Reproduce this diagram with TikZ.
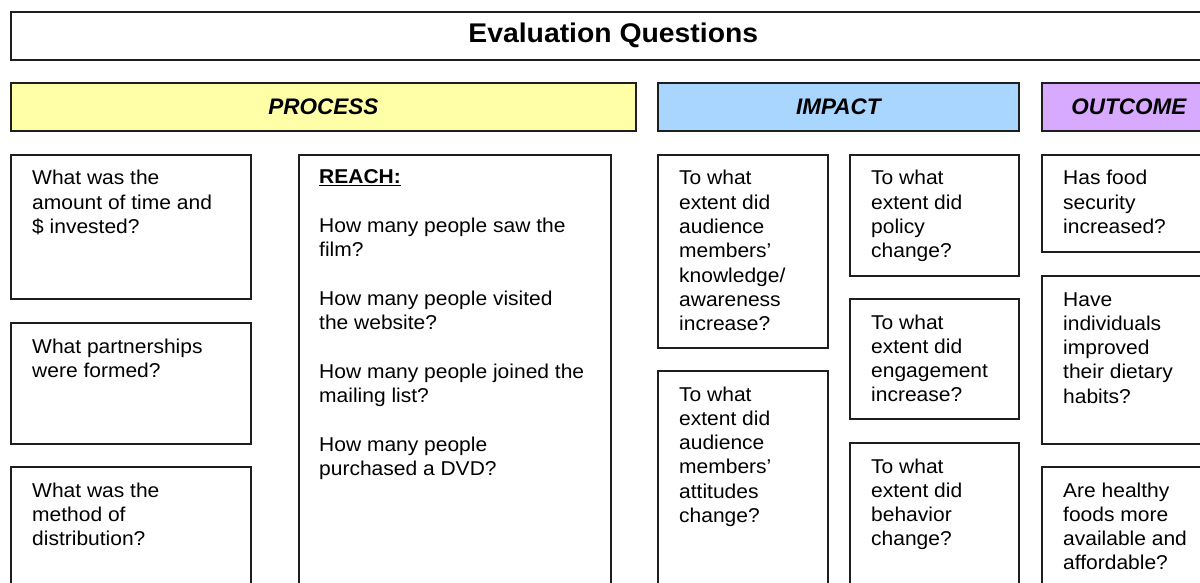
\documentclass[tikz,border=0pt]{standalone}
\usepackage{fontspec}
\setmainfont{Liberation Sans}
\newfontfamily\widefont{Liberation Sans}[FakeStretch=1.05]
\definecolor{procY}{RGB}{255,255,168}
\definecolor{impB}{RGB}{168,214,255}
\definecolor{outP}{RGB}{216,170,255}
\definecolor{edge}{RGB}{30,30,30}
\tikzset{
  frame/.style={draw=edge, line width=1.6pt, inner sep=0pt, anchor=north west},
  qtext/.style={anchor=base west, inner sep=0pt, font=\widefont\fontsize{20}{24.3}\selectfont},
  headtext/.style={font=\fontsize{22.5}{26}\selectfont\bfseries\itshape},
  titletext/.style={font=\widefont\fontsize{27}{30}\selectfont\bfseries}
}
\newcommand{\qlines}[1]{\begin{tabular}[t]{@{}l@{}}#1\end{tabular}}
\begin{document}
\begin{tikzpicture}[x=1pt,y=-1pt]
\useasboundingbox (0,0) rectangle (1200,583);
% title
\node[frame, minimum width=1205pt, minimum height=48pt, titletext] (title) at (10,11) {Evaluation Questions};
% headers
\node[frame, fill=procY, minimum width=625pt, minimum height=48pt, headtext] (process) at (10,82) {PROCESS};
\node[frame, fill=impB, minimum width=361pt, minimum height=48pt, headtext] (impact) at (657,82) {IMPACT};
\node[frame, fill=outP, minimum width=174pt, minimum height=48pt, headtext] (outcome) at (1041,82) {OUTCOME};
% boxes
\node[frame, minimum width=240pt, minimum height=144pt] (c1a) at (10,154) {};
\node[frame, minimum width=240pt, minimum height=121pt] (c1b) at (10,322) {};
\node[frame, minimum width=240pt, minimum height=140pt] (c1c) at (10,466) {};
\node[frame, minimum width=312pt, minimum height=452pt] (c2) at (298,154) {};
\node[frame, minimum width=170pt, minimum height=193pt] (c3a) at (657,154) {};
\node[frame, minimum width=170pt, minimum height=236pt] (c3b) at (657,370) {};
\node[frame, minimum width=169pt, minimum height=121pt] (c4a) at (849,154) {};
\node[frame, minimum width=169pt, minimum height=120pt] (c4b) at (849,298) {};
\node[frame, minimum width=169pt, minimum height=164pt] (c4c) at (849,442) {};
\node[frame, minimum width=174pt, minimum height=97pt] (c5a) at (1041,154) {};
\node[frame, minimum width=174pt, minimum height=168pt] (c5b) at (1041,275) {};
\node[frame, minimum width=174pt, minimum height=140pt] (c5c) at (1041,466) {};
% texts
\node[qtext] (t1a) at ([shift={(22pt,-31pt)}]c1a.north west) {\qlines{What was the\\amount of time and\\\$ invested?}};
\node[qtext] (t1b) at ([shift={(22pt,-31pt)}]c1b.north west) {\qlines{What partnerships\\were formed?}};
\node[qtext] (t1c) at ([shift={(22pt,-31pt)}]c1c.north west) {\qlines{What was the\\method of\\distribution?}};
\node[qtext] (t2) at ([shift={(21pt,-30pt)}]c2.north west) {\qlines{\textbf{\underline{REACH:}}\\ \\How many people saw the\\film?\\ \\How many people visited\\the website?\\ \\How many people joined the\\mailing list?\\ \\How many people\\purchased a DVD?}};
\node[qtext] (t3a) at ([shift={(22pt,-31pt)}]c3a.north west) {\qlines{To what\\extent did\\audience\\members’\\knowledge/\\awareness\\increase?}};
\node[qtext] (t3b) at ([shift={(22pt,-31pt)}]c3b.north west) {\qlines{To what\\extent did\\audience\\members’\\attitudes\\change?}};
\node[qtext] (t4a) at ([shift={(22pt,-31pt)}]c4a.north west) {\qlines{To what\\extent did\\policy\\change?}};
\node[qtext] (t4b) at ([shift={(22pt,-31pt)}]c4b.north west) {\qlines{To what\\extent did\\engagement\\increase?}};
\node[qtext] (t4c) at ([shift={(22pt,-31pt)}]c4c.north west) {\qlines{To what\\extent did\\behavior\\change?}};
\node[qtext] (t5a) at ([shift={(22pt,-31pt)}]c5a.north west) {\qlines{Has food\\security\\increased?}};
\node[qtext] (t5b) at ([shift={(22pt,-31pt)}]c5b.north west) {\qlines{Have\\individuals\\improved\\their dietary\\habits?}};
\node[qtext] (t5c) at ([shift={(22pt,-31pt)}]c5c.north west) {\qlines{Are healthy\\foods more\\available and\\affordable?}};
\end{tikzpicture}
\end{document}
